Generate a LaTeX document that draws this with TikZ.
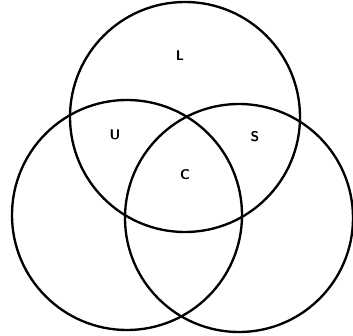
\documentclass[tikz,border=0pt]{standalone}
\begin{document}
\begin{tikzpicture}[x=0.03cm, y=-0.03cm, line width=2pt]
    \useasboundingbox (0,0) rectangle (353,336);
    % the three sets
    \draw (185,117) circle [radius=3.45cm];
    \draw (127,215) circle [radius=3.45cm];
    \draw (239,218) circle [radius=3.42cm];

    \node[font=\sffamily\bfseries\large] (lab-l) at (180,56) {L};
    \node[font=\sffamily\bfseries\large] (lab-u) at (115,135) {U};
    \node[font=\sffamily\bfseries\large] (lab-s) at (255,137) {S};
    \node[font=\sffamily\bfseries\large] (lab-c) at (185,175) {C};
\end{tikzpicture}
\end{document}
